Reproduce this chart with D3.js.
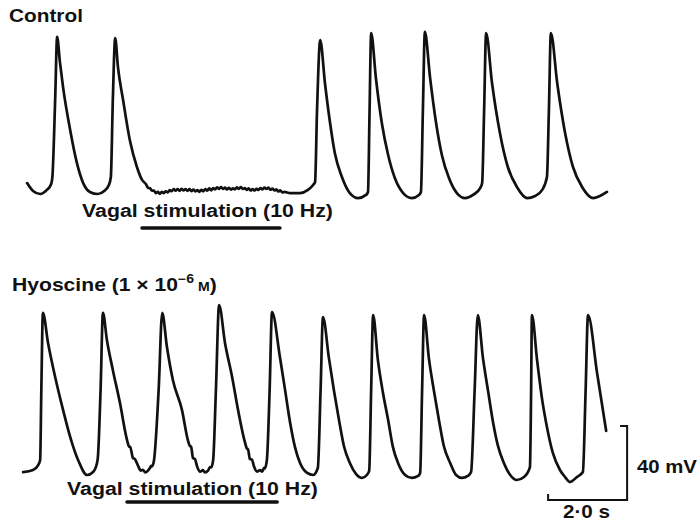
<!DOCTYPE html>
<html>
<head>
<meta charset="utf-8">
<script src="https://cdn.jsdelivr.net/npm/d3@7"></script>
<style>
html, body { margin: 0; padding: 0; background: #fff; }
svg { display: block; }
text { font-family: "Liberation Sans", Arial, Helvetica, sans-serif; font-weight: bold; fill: #111; }
</style>
</head>
<body>
<script>
// Membrane potential traces: [time (s), potential (mV)]
const controlBefore = [
  [0.18,-59.1],[0.33,-63.4],[0.51,-65.0],[0.68,-62.8],[0.79,-59.6],[0.82,-55.8],[0.89,-14.2],[0.94,19.9],
  [1.01,6.4],[1.09,-7.2],[1.27,-30.4],[1.44,-48.2],[1.60,-59.1],[1.77,-63.9],[1.97,-65.0],[2.13,-63.4],
  [2.25,-60.1],[2.30,-55.8],[2.35,-14.2],[2.41,19.3],
  [2.48,3.6],[2.61,-14.2],[2.78,-35.8],[2.96,-50.4],[3.09,-57.4]
];

// during vagal stimulation the control trace is sampled every 50 ms
const controlStimStart = 3.19;
const controlStimStep = 0.05;
const controlStim = [
  -59.7,-61.6,-61.9,-63.2,-63.2,-64.5,-63.9,-64.9,-63.8,-64.5,
  -63.5,-64.1,-62.9,-63.5,-62.3,-63.2,-62.4,-63.3,-62.2,-63.1,
  -62.4,-63.3,-62.4,-63.4,-62.6,-63.6,-62.9,-63.8,-62.7,-63.5,
  -62.4,-63.2,-62.0,-63.0,-61.8,-62.5,-61.4,-62.2,-61.3,-62.3,
  -61.6,-62.5,-61.7,-62.6,-61.9,-62.5,-61.4,-62.2,-61.3,-62.3,
  -61.8,-62.8,-62.0,-63.1,-62.3,-63.1,-62.2,-62.8,-61.8,-62.5,
  -61.5,-62.2,-61.6,-62.7,-62.1,-63.1,-62.5,-63.6,-63.0,-64.2,
  -63.9
];

const controlAfter = [
  [6.84,-64.5],[7.09,-64.5],[7.29,-62.8],[7.42,-60.1],[7.47,-58.5],[7.52,-19.6],[7.60,18.2],
  [7.72,-5.0],[7.85,-26.6],[7.97,-42.8],[8.15,-55.8],[8.35,-64.5],[8.56,-67.2],[8.76,-65.5],[8.81,-63.9],[8.85,-19.6],[8.89,22.0],
  [9.01,-2.3],[9.16,-26.6],[9.32,-43.9],[9.49,-56.4],[9.70,-64.5],[9.92,-67.2],[10.10,-65.5],[10.15,-63.9],[10.20,-19.6],[10.25,22.6],
  [10.38,-1.8],[10.53,-26.1],[10.68,-43.9],[10.86,-56.4],[11.06,-64.5],[11.27,-67.2],[11.47,-65.5],[11.65,-61.8],[11.70,-59.1],[11.75,-19.6],[11.80,22.0],
  [11.95,-5.0],[12.15,-32.0],[12.35,-50.4],[12.58,-61.2],[12.84,-67.2],[13.04,-66.1],[13.22,-62.8],[13.34,-55.8],[13.39,-19.6],[13.44,22.0],
  [13.60,-5.0],[13.80,-32.0],[14.00,-50.4],[14.23,-61.2],[14.51,-67.2],[14.68,-66.1],[14.86,-63.9]
];

const hyoscineTrace = [
  [0.08,-63.4],[0.33,-62.3],[0.46,-59.6],[0.51,-56.9],[0.54,-19.0],[0.58,22.6],
  [0.71,6.4],[0.89,-12.0],[1.09,-29.8],[1.27,-44.4],[1.47,-56.9],[1.70,-65.0],[1.85,-63.4],[1.95,-58.5],[1.97,-55.8],[2.04,-19.0],[2.10,22.6],
  [2.20,8.0],[2.35,-8.2],[2.53,-26.0],[2.71,-46.1],[2.76,-49.6],[2.79,-49.8],[2.86,-55.8],[2.91,-56.4],[2.99,-60.1],
  [3.06,-62.6],[3.11,-62.2],[3.17,-63.6],[3.24,-62.6],[3.29,-61.2],[3.32,-60.1],[3.34,-60.3],[3.39,-57.4],[3.51,-19.0],[3.60,22.6],
  [3.72,4.2],[3.87,-13.6],[4.10,-29.8],[4.25,-46.1],[4.30,-49.3],[4.33,-49.6],[4.38,-55.8],[4.43,-56.4],[4.48,-60.1],[4.56,-63.2],
  [4.63,-62.4],[4.68,-63.6],[4.76,-62.6],[4.81,-60.7],[4.84,-60.9],[4.89,-56.9],[4.96,-19.0],[5.04,26.9],
  [5.19,6.4],[5.37,-12.0],[5.52,-29.8],[5.70,-47.7],[5.75,-50.9],[5.77,-50.9],[5.82,-56.4],[5.87,-56.6],[5.92,-60.1],[6.00,-63.2],
  [6.08,-62.4],[6.13,-63.2],[6.18,-61.2],[6.20,-61.4],[6.25,-56.9],[6.32,-19.0],[6.38,23.1],
  [6.58,-1.2],[6.71,-19.0],[6.84,-36.9],[6.96,-49.8],[7.09,-58.5],[7.27,-63.9],[7.42,-65.0],[7.54,-61.2],[7.61,-19.0],[7.67,20.4],
  [7.82,-1.7],[7.95,-19.6],[8.08,-35.8],[8.20,-49.3],[8.35,-58.5],[8.51,-64.5],[8.66,-66.6],[8.78,-65.0],[8.84,-62.8],[8.89,-19.0],[8.94,21.5],
  [9.06,-2.8],[9.19,-20.7],[9.32,-35.3],[9.44,-49.8],[9.57,-58.5],[9.75,-65.0],[9.92,-66.6],[10.08,-65.5],[10.13,-63.9],[10.18,-19.0],[10.23,21.5],
  [10.35,-1.7],[10.48,-19.6],[10.61,-35.8],[10.73,-49.3],[10.89,-58.5],[11.04,-65.0],[11.19,-66.6],[11.34,-65.5],[11.42,-63.4],[11.51,-19.0],[11.59,21.5],
  [11.72,-1.7],[11.85,-19.6],[11.97,-35.8],[12.10,-49.3],[12.25,-58.5],[12.41,-65.0],[12.58,-67.7],[12.76,-66.1],[12.91,-60.7],[12.94,-19.0],[12.96,21.5],
  [13.09,-2.8],[13.22,-24.4],[13.34,-39.0],[13.49,-53.1],[13.67,-62.3],[13.80,-66.1],[13.92,-68.8],[14.10,-66.1],[14.25,-63.4],[14.32,-19.0],[14.38,21.5],
  [14.61,-9.9],[14.84,-41.2]
];

// vagal stimulation periods (s)
const stimControl = [3.09, 6.58];
const stimHyoscine = [2.71, 6.51];

// calibration: 2.0 s and 40 mV
const barTime = 2.0;
const barVolts = 40;
const barStart = [13.37, -78.5];

const W = 700, H = 521;
const svg = d3.select('body').append('svg')
  .attr('width', W)
  .attr('height', H);

const x = d3.scaleLinear().domain([0, 15]).range([20, 612.5]);
const yControl = d3.scaleLinear().domain([-65, 20]).range([194, 36.75]);
const yHyoscine = d3.scaleLinear().domain([-65, 20]).range([475, 317.75]);

const traceLine = y => d3.line()
  .x(d => x(d[0]))
  .y(d => y(d[1]))
  .curve(d3.curveMonotoneX);

const controlTrace = controlBefore
  .concat(controlStim.map((v, i) => [controlStimStart + i * controlStimStep, v]))
  .concat(controlAfter);

// traces
[[controlTrace, yControl], [hyoscineTrace, yHyoscine]].forEach(([data, y]) => {
  svg.append('path')
    .datum(data)
    .attr('d', traceLine(y))
    .attr('fill', 'none')
    .attr('stroke', '#111')
    .attr('stroke-width', 2.7)
    .attr('stroke-linejoin', 'round')
    .attr('stroke-linecap', 'round');
});

// stimulation bars
[[stimControl, 228], [stimHyoscine, 502]].forEach(([s, yy]) => {
  svg.append('line')
    .attr('x1', x(s[0]))
    .attr('x2', x(s[1]))
    .attr('y1', yy)
    .attr('y2', yy)
    .attr('stroke', '#111')
    .attr('stroke-width', 3.6)
    .attr('stroke-linecap', 'round');
});

// scale bar
const bx0 = x(barStart[0]), bx1 = x(barStart[0] + barTime);
const by0 = yHyoscine(barStart[1]), by1 = yHyoscine(barStart[1] + barVolts);
svg.append('path')
  .attr('d', `M${bx0},${by0 - 6}V${by0}H${bx1}V${by1}H${bx1 - 7}`)
  .attr('fill', 'none')
  .attr('stroke', '#111')
  .attr('stroke-width', 2);

// text, stretched horizontally to the width it has in the figure
function fitText(g, left, baseline, width) {
  const bb = g.node().getBBox();
  const k = width / bb.width;
  g.attr('transform', `translate(${left - bb.x * k},${baseline}) scale(${k},1)`);
}

function label(str, left, baseline, width) {
  const t = svg.append('text').attr('font-size', 18).text(str);
  fitText(t, left, baseline, width);
  return t;
}

label('Control', 9, 22, 74);
label('Vagal stimulation (10 Hz)', 82, 217, 251);
label('Vagal stimulation (10 Hz)', 67, 495, 251);
label('40 mV', 637, 473, 60);
label('2·0 s', 563, 518, 47);

const hy = svg.append('text').attr('font-size', 18);
hy.append('tspan').text('Hyoscine (1 × 10');
hy.append('tspan').attr('font-size', 12).attr('dy', -8).text('−6');
hy.append('tspan').attr('font-size', 12).attr('dy', 8).text(' M');
hy.append('tspan').text(')');
fitText(hy, 12, 291, 205);
</script>
</body>
</html>
